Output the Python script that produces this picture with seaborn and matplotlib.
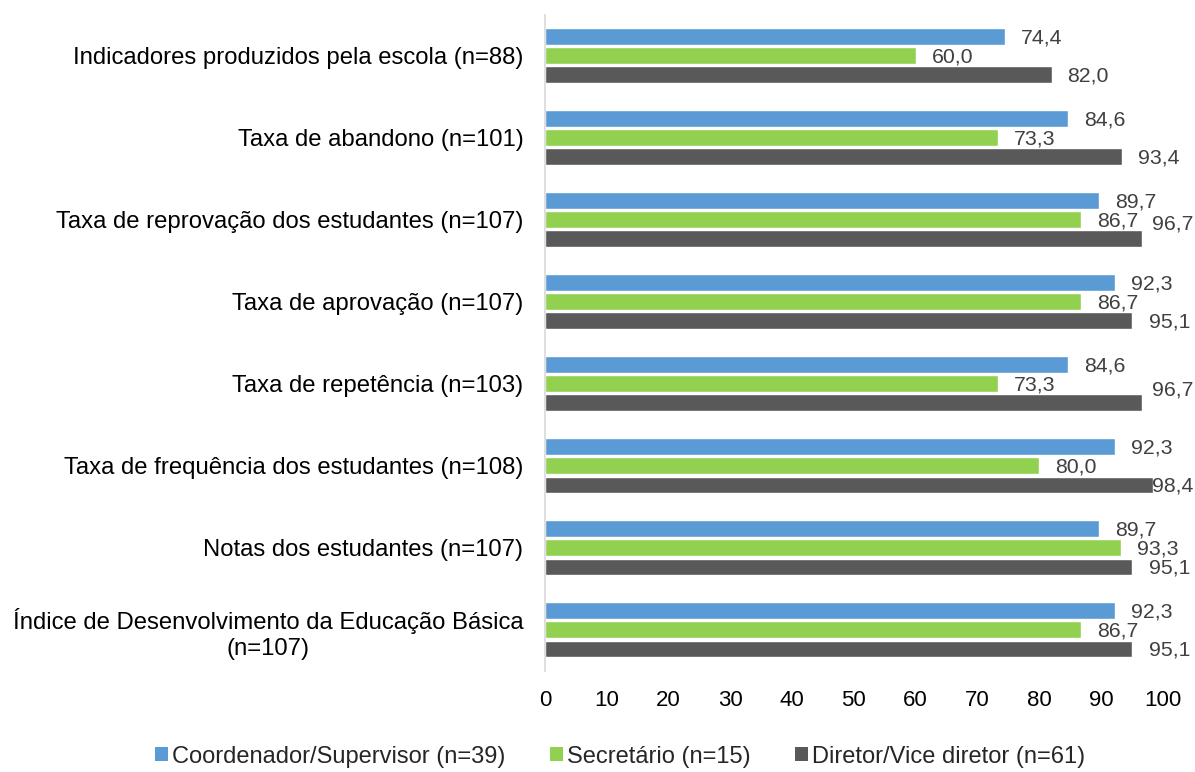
import matplotlib
matplotlib.use("Agg")
import matplotlib.pyplot as plt
import seaborn as sns
import pandas as pd
import numpy as np
from matplotlib.patches import Patch

categories = [
    "Indicadores produzidos pela escola (n=88)",
    "Taxa de abandono (n=101)",
    "Taxa de reprovação dos estudantes (n=107)",
    "Taxa de aprovação (n=107)",
    "Taxa de repetência (n=103)",
    "Taxa de frequência dos estudantes (n=108)",
    "Notas dos estudantes (n=107)",
    "Índice de Desenvolvimento da Educação Básica\n(n=107)",
]
series_names = ["Coordenador/Supervisor (n=39)", "Secretário (n=15)", "Diretor/Vice diretor (n=61)"]
coordenador = [74.4, 84.6, 89.7, 92.3, 84.6, 92.3, 89.7, 92.3]
secretario = [60.0, 73.3, 86.7, 86.7, 73.3, 80.0, 93.3, 86.7]
diretor = [82.0, 93.4, 96.7, 95.1, 96.7, 98.4, 95.1, 95.1]
x_ticks = [0, 10, 20, 30, 40, 50, 60, 70, 80, 90, 100]

colors = ["#5B9BD5", "#92D050", "#595959"]

rows = []
for name, vals in zip(series_names, [coordenador, secretario, diretor]):
    for c, v in zip(categories, vals):
        rows.append({"categoria": c, "grupo": name, "valor": v})
df = pd.DataFrame(rows)

sns.set_theme(style="white")
plt.rcParams["font.family"] = ["Liberation Sans", "DejaVu Sans"]

fig = plt.figure(figsize=(11.95, 7.72), dpi=100)
ax = fig.add_axes([0.456, 0.131, 0.517, 0.850])

sns.barplot(data=df, y="categoria", x="valor", hue="grupo", order=categories,
            hue_order=series_names, palette=colors, orient="h", width=0.7,
            gap=0.12, saturation=1, ax=ax, legend=False, errorbar=None)

# data labels
nudges = {(2, 2): 12, (2, 4): 10}  # (series, category): upward shift in points
for si, cont in enumerate(ax.containers):
    for ci, bar in enumerate(cont):
        w = bar.get_width()
        y = bar.get_y() + bar.get_height() / 2
        xpos = min(w + 2.6, 98.3)
        dy = nudges.get((si, ci), 0)
        ax.annotate(f"{w:.1f}".replace(".", ","), xy=(xpos, y), xytext=(0, dy - 1),
                    textcoords="offset points", va="center", ha="left",
                    fontsize=15.3, color="#404040", annotation_clip=False)

ax.set_xlim(0, 100)
ax.set_ylim(len(categories) - 0.5, -0.5)
ax.set_xticks(x_ticks)
ax.set_xticklabels([str(t) for t in x_ticks])
ax.set_xlabel("")
ax.set_ylabel("")
ax.tick_params(axis="x", length=0, labelsize=16, labelcolor="#000000", pad=14)
ax.tick_params(axis="y", length=0, labelsize=17.2, labelcolor="#000000", pad=15.5)
for lab in ax.get_yticklabels():
    lab.set_multialignment("center")
for s in ["top", "right", "bottom"]:
    ax.spines[s].set_visible(False)
ax.spines["left"].set_color("#D9D9D9")
ax.spines["left"].set_linewidth(1.2)

handles = [Patch(facecolor=c, edgecolor="none") for c in colors]
fig.legend(handles, series_names, loc="lower center", bbox_to_anchor=(0.519, -0.022),
           ncol=3, frameon=False, fontsize=17, handlelength=0.55, handleheight=0.55,
           handletextpad=0.15, columnspacing=1.9)

fig.savefig("out.png", dpi=100)
